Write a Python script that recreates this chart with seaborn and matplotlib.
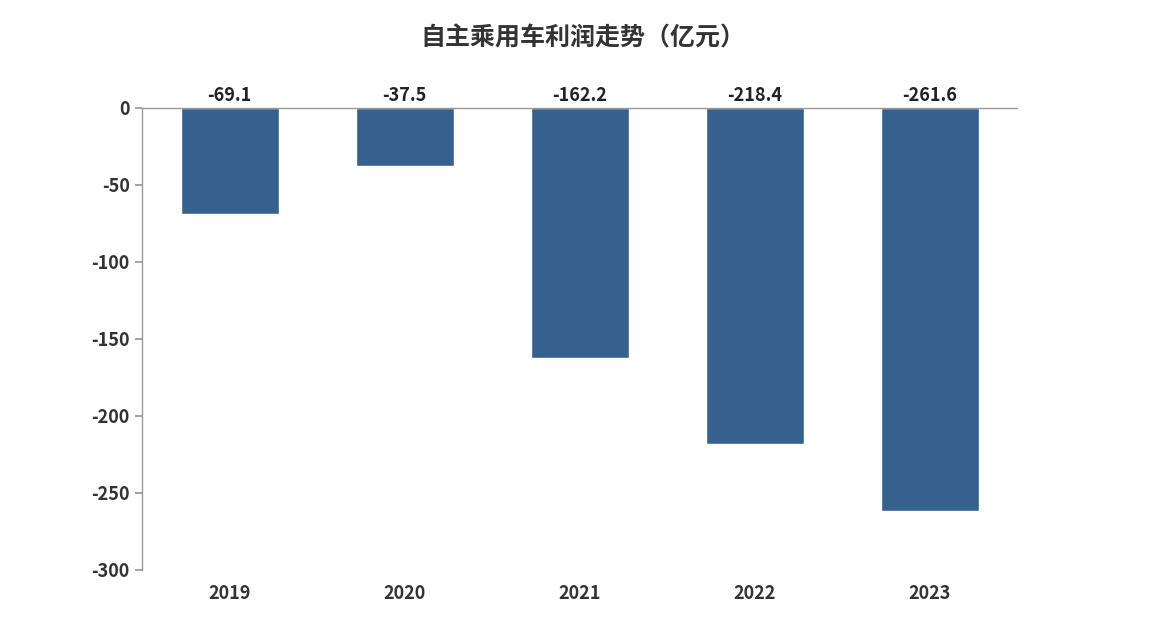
import matplotlib
matplotlib.use("Agg")
import matplotlib.pyplot as plt
import seaborn as sns
import pandas as pd

years = ["2019", "2020", "2021", "2022", "2023"]
profits = [-69.1, -37.5, -162.2, -218.4, -261.6]
yticks = [0, -50, -100, -150, -200, -250, -300]

sns.set_theme(style="white")
plt.rcParams['font.family'] = ['Noto Sans CJK SC', 'DejaVu Sans']

fig = plt.figure(figsize=(11.65, 6.2), dpi=100)
ax = fig.add_axes([0.122, 0.081, 0.751, 0.745])
df = pd.DataFrame({"year": years, "profit": profits})
sns.barplot(data=df, x="year", y="profit", color="#36618f", saturation=1, width=0.56, ax=ax)
ax.set_ylim(-300, 0)
ax.set_xlim(-0.5, 4.5)
ax.set_yticks(yticks)
ax.set_yticklabels([str(t) for t in yticks], fontsize=13, fontweight="bold", color="#333333")
ax.set_xticks(range(len(years)))
ax.set_xticklabels(years, fontsize=13, fontweight="bold", color="#333333")
ax.set_xlabel("")
ax.set_ylabel("")
for s in ["right", "bottom"]:
    ax.spines[s].set_visible(False)
for s in ["left", "top"]:
    ax.spines[s].set_color("#999999")
    ax.spines[s].set_linewidth(1)
ax.tick_params(axis="y", left=True, length=5, color="#999999", pad=4)
ax.tick_params(axis="x", bottom=False, pad=4)
for i, v in enumerate(profits):
    ax.text(i, 2, f"{v}", ha="center", va="bottom", fontsize=13, fontweight="bold", color="#222222", clip_on=False)
fig.text(0.5, 0.938, "自主乘用车利润走势（亿元）", ha="center", va="center", fontsize=18, fontweight="bold", color="#333333")
fig.savefig("out.png", dpi=100)
